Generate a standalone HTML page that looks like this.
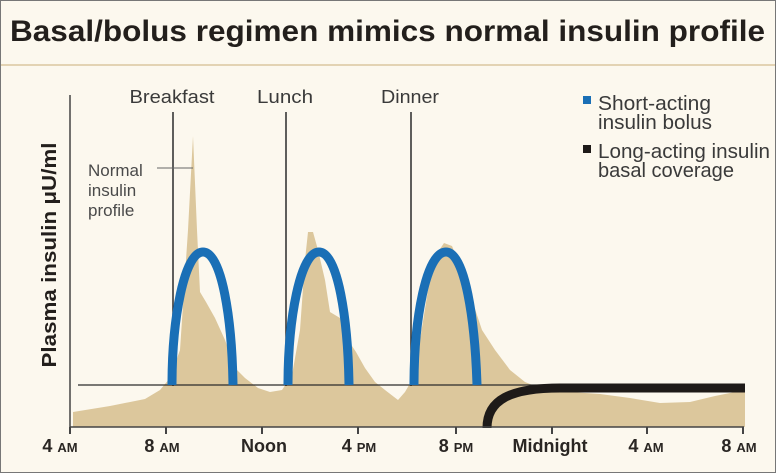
<!DOCTYPE html>
<html><head><meta charset="utf-8"><style>
html,body{margin:0;padding:0;background:#fcf8ee;}
svg{display:block;}
text{font-family:"Liberation Sans",Arial,sans-serif;}
</style></head><body>
<svg width="776" height="473" viewBox="0 0 776 473" xmlns="http://www.w3.org/2000/svg">
<rect x="0" y="0" width="776" height="473" fill="#fcf8ee"/>
<rect x="0.5" y="0.5" width="775" height="472" fill="none" stroke="#777" stroke-width="1"/>
<line x1="1" y1="65" x2="775" y2="65" stroke="#e3d3b3" stroke-width="2"/>
<text x="10" y="41" font-size="30" font-weight="bold" fill="#231f1c" textLength="755" lengthAdjust="spacingAndGlyphs">Basal/bolus regimen mimics normal insulin profile</text>

<path fill="#dcc79c" d="M73,427 L73,412 L110,406 L145,399 L160,390 L170,378 L180,350 L188,230 L193,136 L197,230 L200,292 L206,302 L215,318 L225,340 L235,368 L245,378 L258,388 L270,392 L282,390 L292,375 L300,330 L305,260 L308,232 L313,232 L318,250 L325,280 L330,312 L340,318 L348,340 L356,352 L365,368 L375,382 L385,390 L398,400 L405,392 L412,380 L420,340 L428,290 L436,255 L444,243 L452,246 L462,270 L472,300 L482,330 L495,350 L510,370 L525,382 L545,390 L570,392 L600,394 L630,398 L660,403 L690,402 L715,396 L745,390 L745,427 Z"/>

<line x1="78" y1="385" x2="745" y2="385" stroke="#2b2b2b" stroke-width="1.3"/>

<line x1="173" y1="112" x2="173" y2="386" stroke="#2b2b2b" stroke-width="1.5"/>
<line x1="286" y1="112" x2="286" y2="386" stroke="#2b2b2b" stroke-width="1.5"/>
<line x1="411" y1="112" x2="411" y2="386" stroke="#2b2b2b" stroke-width="1.5"/>
<text x="172" y="103" font-size="18" fill="#3a3a3a" text-anchor="middle" textLength="85" lengthAdjust="spacingAndGlyphs">Breakfast</text>
<text x="285" y="103" font-size="18" fill="#3a3a3a" text-anchor="middle" textLength="56" lengthAdjust="spacingAndGlyphs">Lunch</text>
<text x="410" y="103" font-size="18" fill="#3a3a3a" text-anchor="middle" textLength="58" lengthAdjust="spacingAndGlyphs">Dinner</text>

<text font-size="17" fill="#4a4a4a"><tspan x="88" y="176">Normal</tspan><tspan x="88" y="196">insulin</tspan><tspan x="88" y="216">profile</tspan></text>
<line x1="157" y1="168" x2="193" y2="168" stroke="#666" stroke-width="1"/>

<g fill="none" stroke="#1a6fb6" stroke-width="9">
<path d="M172,385 C172,320 184,252 203,252 C222,252 232,320 233,385"/>
<path d="M288,385 C288,320 300,252 319,252 C338,252 348,320 349,385"/>
<path d="M414,385 C414,320 426,252 446,252 C465,252 475,320 477,385"/>
</g>

<path d="M487,428 C487,400 510,388 560,388 L745,388" fill="none" stroke="#1e1a18" stroke-width="9"/>

<line x1="70" y1="95" x2="70" y2="428" stroke="#444" stroke-width="1.5"/>
<line x1="70" y1="427" x2="744" y2="427" stroke="#444" stroke-width="1.5"/>
<g stroke="#444" stroke-width="2">
<line x1="70" y1="427" x2="70" y2="434"/><line x1="166" y1="427" x2="166" y2="434"/>
<line x1="262" y1="427" x2="262" y2="434"/><line x1="358" y1="427" x2="358" y2="434"/>
<line x1="456" y1="427" x2="456" y2="434"/><line x1="552" y1="427" x2="552" y2="434"/>
<line x1="647" y1="427" x2="647" y2="434"/><line x1="743" y1="427" x2="743" y2="434"/>
</g>
<g font-size="18" font-weight="bold" fill="#2a2623" text-anchor="middle">
<text x="60" y="452">4 <tspan font-size="13">AM</tspan></text>
<text x="162" y="452">8 <tspan font-size="13">AM</tspan></text>
<text x="264" y="452">Noon</text>
<text x="359" y="452">4 <tspan font-size="13">PM</tspan></text>
<text x="456" y="452">8 <tspan font-size="13">PM</tspan></text>
<text x="550" y="452">Midnight</text>
<text x="646" y="452">4 <tspan font-size="13">AM</tspan></text>
<text x="739" y="452">8 <tspan font-size="13">AM</tspan></text>
</g>
<text transform="translate(56,255) rotate(-90)" font-size="20" font-weight="bold" fill="#231f1c" text-anchor="middle" textLength="225" lengthAdjust="spacingAndGlyphs">Plasma insulin μU/ml</text>

<rect x="583" y="96" width="8" height="8" fill="#1a6fb6"/>
<text font-size="20" fill="#3a3a3a"><tspan x="598" y="110" textLength="113" lengthAdjust="spacingAndGlyphs">Short-acting</tspan><tspan x="598" y="129" textLength="114" lengthAdjust="spacingAndGlyphs">insulin bolus</tspan></text>
<rect x="583" y="145" width="8" height="8" fill="#1e1a18"/>
<text font-size="20" fill="#3a3a3a"><tspan x="598" y="158" textLength="172" lengthAdjust="spacingAndGlyphs">Long-acting insulin</tspan><tspan x="598" y="177" textLength="136" lengthAdjust="spacingAndGlyphs">basal coverage</tspan></text>
</svg>
</body></html>
